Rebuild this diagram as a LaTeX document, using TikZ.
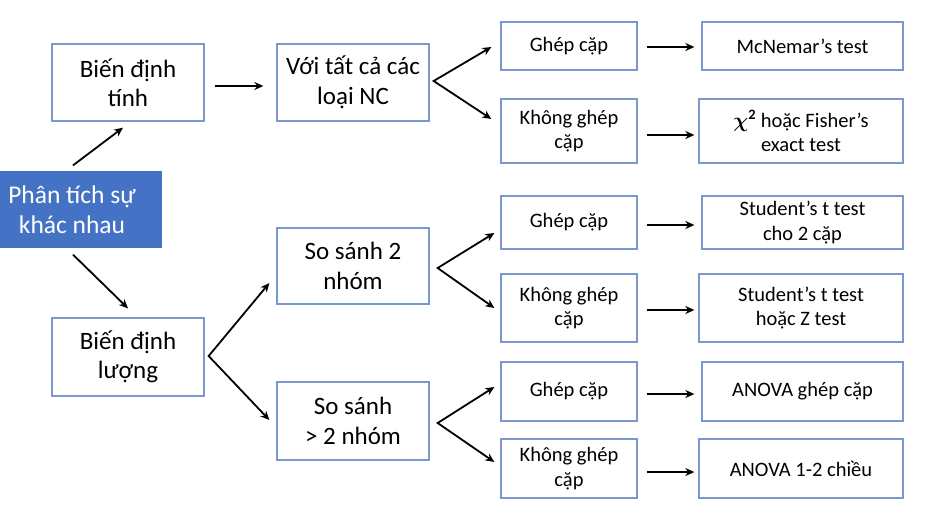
\documentclass[tikz,border=0pt]{standalone}
\usepackage{amsmath}
\usepackage{fontspec}
\setmainfont{Carlito}
\usetikzlibrary{arrows.meta,calc}
\definecolor{boxline}{RGB}{122,152,207}
\definecolor{boxfill}{RGB}{68,114,196}
\tikzset{
  box/.style={draw=boxline,line width=1.3pt,fill=white,align=center,inner sep=0pt,font=\fontsize{25}{29.5}\selectfont},
  smallbox/.style={box,font=\fontsize{20.5}{24.5}\selectfont},
  mainbox/.style={box,draw=none,fill=boxfill,text=white,font=\fontsize{25.5}{29.5}\selectfont},
  link/.style={-{Stealth[length=9pt,width=8pt]},line width=1.8pt},
  fan/.style={{Stealth[length=9pt,width=8pt]}-{Stealth[length=9pt,width=8pt]},line width=1.8pt}
}

\begin{document}
\begin{tikzpicture}[x=1pt,y=-1pt]
    \clip (0,0) rectangle (925,511);
    \node[mainbox,minimum width=180pt,minimum height=77pt] (pt) at (72,209.5) {Phân tích sự\\khác nhau};
    \node[box,minimum width=152pt,minimum height=77pt] (bdt) at (128,82.5) {Biến định\\tính};
    \node[box,minimum width=152pt,minimum height=78pt] (bdl) at (128,357) {Biến định\\lượng};
    \node[box,minimum width=152pt,minimum height=77pt] (vt) at (353,82.5) {Với tất cả các\\loại NC};
    \node[box,minimum width=152pt,minimum height=76pt] (ss2) at (353,266) {So sánh 2\\nhóm};
    \node[box,minimum width=152pt,minimum height=78pt] (ss3) at (353,421) {So sánh\\> 2 nhóm};
    \node[smallbox,minimum width=136pt,minimum height=48pt] (gc1) at (569,46) {Ghép cặp};
    \node[smallbox,minimum width=136pt,minimum height=64pt] (kg1) at (569,131) {Không ghép\\cặp};
    \node[smallbox,minimum width=136pt,minimum height=53pt] (gc2) at (569,222.5) {Ghép cặp};
    \node[smallbox,minimum width=136pt,minimum height=68pt] (kg2) at (569,308) {Không ghép\\cặp};
    \node[smallbox,minimum width=136pt,minimum height=59pt] (gc3) at (569,391.5) {Ghép cặp};
    \node[smallbox,minimum width=136pt,minimum height=59pt] (kg3) at (569,468.5) {Không ghép\\cặp};
    \node[smallbox,minimum width=201pt,minimum height=48pt] (mcn) at (802.5,46) {McNemar’s test};
    \node[smallbox,minimum width=204pt,minimum height=64pt] (chi) at (801,131) {$\boldsymbol{\chi}^{\mathbf{2}}$ hoặc Fisher’s\\exact test};
    \node[smallbox,minimum width=201pt,minimum height=53pt] (stp) at (802.5,222.5) {Student’s t test\\cho 2 cặp};
    \node[smallbox,minimum width=204pt,minimum height=68pt] (stz) at (801,308) {Student’s t test\\hoặc Z test};
    \node[smallbox,minimum width=201pt,minimum height=59pt] (avp) at (802.5,391.5) {ANOVA ghép cặp};
    \node[smallbox,minimum width=204pt,minimum height=59pt] (av2) at (801,468.5) {ANOVA 1-2 chiều};
    \draw[link] ($(pt.north)+(1,-5)$) -- ($(bdt.south)+(-5,6)$);
    \draw[link] ($(pt.south)+(1,6)$) -- ($(bdl.north)+(0,-9)$);
    \draw[link] ($(bdt.east)+(10,3.5)$) -- ($(vt.west)+(-13,3.5)$);
    \draw[fan] ($(ss2.west)+(-7,17)$) -- ($(bdl.east)+(4,-1)$) -- ($(ss3.west)+(-7,-1)$);
    \draw[fan] ($(gc1.west)+(-9,1)$) -- ($(vt.east)+(4,-1.5)$) -- ($(kg1.west)+(-9,-12)$);
    \draw[fan] ($(gc2.west)+(-6,10.5)$) -- ($(ss2.east)+(8,2)$) -- ($(kg2.west)+(-6,0)$);
    \draw[fan] ($(gc3.west)+(-6,-4.5)$) -- ($(ss3.east)+(8,2)$) -- ($(kg3.west)+(-6,-6.5)$);
    \draw[link] ($(gc1.east)+(9,1)$) -- ($(mcn.west)+(-7,1)$);
    \draw[link] ($(kg1.east)+(9,4)$) -- ($(chi.west)+(-4,4)$);
    \draw[link] ($(gc2.east)+(9,2.5)$) -- ($(stp.west)+(-7,2.5)$);
    \draw[link] ($(kg2.east)+(9,2)$) -- ($(stz.west)+(-4,2)$);
    \draw[link] ($(gc3.east)+(9,2.5)$) -- ($(avp.west)+(-7,2.5)$);
    \draw[link] ($(kg3.east)+(9,3.5)$) -- ($(av2.west)+(-4,3.5)$);
\end{tikzpicture}
\end{document}
